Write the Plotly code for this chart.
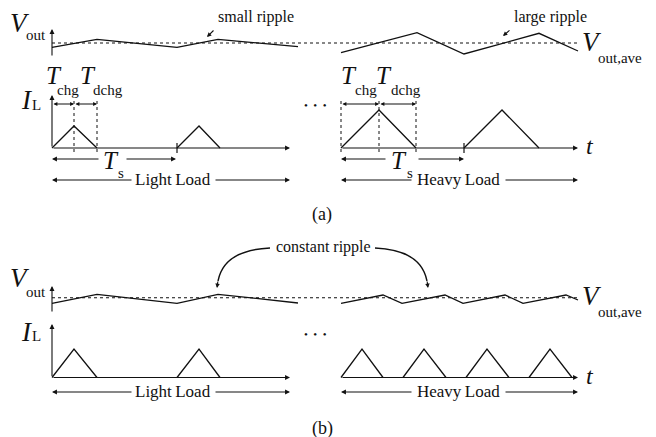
import plotly.graph_objects as go

# ---- waveform data (diagram units: x = time axis position, y = level, downward positive) ----
# (a) output-voltage ripple, light and heavy load
va_light_t = [52, 97, 177, 218, 298]
va_light_v = [47.3, 39.3, 47.3, 39.3, 46.7]
va_heavy_t = [341, 417, 464, 539, 578]
va_heavy_v = [52.7, 32.7, 54.0, 33.3, 51.0]
va_avg = 43.0

# (a) inductor current pulses: start, peak time, end
ia_light_start = [52, 177]
ia_light_peak = [74, 199]
ia_light_end = [97, 220]
ia_light_level = 126
ia_heavy_start = [341, 464]
ia_heavy_peak = [379, 502]
ia_heavy_end = [416, 539]
ia_heavy_level = 110
ia_base = 148

# (b) output-voltage ripple with constant amplitude
vb_light_t = [52, 97, 177, 218, 298]
vb_light_v = [303.3, 294.3, 303.3, 294.3, 303.0]
vb_heavy_t = [341, 383, 402, 445, 463, 505, 523, 566, 578]
vb_heavy_v = [303.3, 295.0, 303.3, 295.0, 303.3, 295.0, 303.3, 295.0, 300.0]
vb_avg = 297.7

# (b) inductor current pulses
ib_light_start = [52, 177]
ib_light_peak = [74, 199]
ib_light_end = [97, 220]
ib_heavy_start = [341, 403, 466, 529]
ib_heavy_peak = [362, 424, 487, 550]
ib_heavy_end = [383, 446, 509, 572]
ib_level = 349
ib_base = 377.5

INK = "#111111"
FONT = "Liberation Serif, Times New Roman, serif"
LW = 1.3
THIN = "\u2009"
DOTS = "•&nbsp;&nbsp;•&nbsp;&nbsp;•"

fig = go.Figure()


def polyline(xs, ys, width=LW, dash=None, color=INK):
    fig.add_trace(go.Scatter(x=xs, y=ys, mode="lines", hoverinfo="skip",
                             line=dict(color=color, width=width, dash=dash)))


def pulses(starts, peaks, ends, level, base):
    xs, ys = [], []
    for s, p, e in zip(starts, peaks, ends):
        xs += [s, p, e, None]
        ys += [base, level, base, None]
    polyline(xs, ys)


def arrow(x0, y0, x1, y1, both=False, width=1.1, size=0.9):
    fig.add_annotation(x=x1, y=y1, ax=x0, ay=y0, xref="x", yref="y",
                       axref="x", ayref="y", text="", showarrow=True,
                       arrowhead=2, arrowsize=size, arrowwidth=width,
                       arrowcolor=INK,
                       arrowside="end+start" if both else "end",
                       startarrowhead=2, startarrowsize=size)


def label(x, y, s, size, italic=False, anchor="center"):
    fig.add_annotation(x=x, y=y, xref="x", yref="y", showarrow=False,
                       text=f"<i>{s}</i>" if italic else s,
                       font=dict(family=FONT, size=size, color=INK),
                       xanchor=anchor, yanchor="middle")


# ---------------- panel (a) ----------------
polyline([52, 578], [va_avg, va_avg], width=1.1, dash="dot")
polyline(va_light_t, va_light_v)
polyline(va_heavy_t, va_heavy_v)
arrow(52, 57, 52, 29)

pulses(ia_light_start, ia_light_peak, ia_light_end, ia_light_level, ia_base)
pulses(ia_heavy_start, ia_heavy_peak, ia_heavy_end, ia_heavy_level, ia_base)
arrow(52, ia_base, 52, 95)
arrow(52, ia_base, 290, ia_base)
arrow(341, ia_base, 578, ia_base)
polyline([177, 177, None, 464, 464], [143, 153, None, 143, 153], width=1.2)

# timing markers
for xs in ([74, 97], [341, 379, 416]):
    for xv in xs:
        polyline([xv, xv], [101, 152], width=1.0, dash="dot")
arrow(52, 104, 74, 104, both=True, size=0.7)
arrow(74, 104, 97, 104, both=True, size=0.7)
arrow(341, 104, 379, 104, both=True, size=0.7)
arrow(379, 104, 416, 104, both=True, size=0.7)

arrow(100, 159, 52, 159)
arrow(125, 159, 176, 159)
arrow(387, 159, 341, 159)
arrow(417, 159, 464, 159)
arrow(133, 180, 52, 180)
arrow(214, 180, 290, 180)
arrow(413, 180, 341, 180)
arrow(504, 180, 578, 180)

label(20, 23, "V", 27, italic=True)
label(36, 35, "out", 15)
label(592, 42, "V", 27, italic=True)
label(620, 58, "out,ave", 15)
label(256, 17, "small ripple", 16)
arrow(215, 29, 207, 37, size=0.8)
label(550, 17, "large ripple", 16)
arrow(511, 29, 503, 36, size=0.8)

label(54, 75, "T", 25, italic=True)
label(68, 90, "chg", 15)
label(88, 75, "T", 25, italic=True)
label(108, 90, "dchg", 15)
label(349, 75, "T", 25, italic=True)
label(366, 90, "chg", 15)
label(384, 75, "T", 25, italic=True)
label(406, 90, "dchg", 15)
label(27, 100, "I", 27, italic=True)
label(36, 105, "L", 15)
label(315, 105, DOTS, 11)

label(111, 160, "T", 25, italic=True)
label(121, 173, "s", 15)
label(399, 160, "T", 25, italic=True)
label(410, 173, "s", 15)
label(173, 179, f"Light{THIN}Load", 17)
label(458, 179, f"Heavy{THIN}Load", 17)
label(590, 146, "t", 24, italic=True)
label(322, 214, "(a)", 18)

# ---------------- panel (b) ----------------
polyline([52, 578], [vb_avg, vb_avg], width=1.1, dash="dot")
polyline(vb_light_t, vb_light_v)
polyline(vb_heavy_t, vb_heavy_v)
arrow(52, 313, 52, 286)

pulses(ib_light_start, ib_light_peak, ib_light_end, ib_level, ib_base)
pulses(ib_heavy_start, ib_heavy_peak, ib_heavy_end, ib_level, ib_base)
arrow(52, ib_base, 52, 324)
arrow(52, ib_base, 290, ib_base)
arrow(341, ib_base, 578, ib_base)
arrow(133, 392, 52, 392)
arrow(214, 392, 290, 392)
arrow(413, 392, 341, 392)
arrow(504, 392, 578, 392)

label(20, 278, "V", 27, italic=True)
label(36, 292, "out", 15)
label(592, 296, "V", 27, italic=True)
label(620, 312, "out,ave", 15)
label(27, 332, "I", 27, italic=True)
label(36, 336, "L", 15)
label(315, 334, DOTS, 11)
label(173, 391, f"Light{THIN}Load", 17)
label(458, 391, f"Heavy{THIN}Load", 17)
label(590, 376, "t", 24, italic=True)
label(322, 428, "(b)", 18)

label(323, 247, "constant ripple", 16)
fig.add_shape(type="path", path="M 270 248 Q 224 250 218 281",
              line=dict(color=INK, width=1.4), xref="x", yref="y")
fig.add_shape(type="path", path="M 375 248 Q 421 250 427 281",
              line=dict(color=INK, width=1.4), xref="x", yref="y")
arrow(218, 280, 217, 288, size=0.8)
arrow(427, 280, 428, 288, size=0.8)

fig.update_layout(
    width=656, height=437, margin=dict(l=0, r=0, t=0, b=0),
    paper_bgcolor="white", plot_bgcolor="white", showlegend=False,
    xaxis=dict(range=[0, 656], visible=False, fixedrange=True),
    yaxis=dict(range=[437, 0], visible=False, fixedrange=True),
)

fig.write_html("out.html")
